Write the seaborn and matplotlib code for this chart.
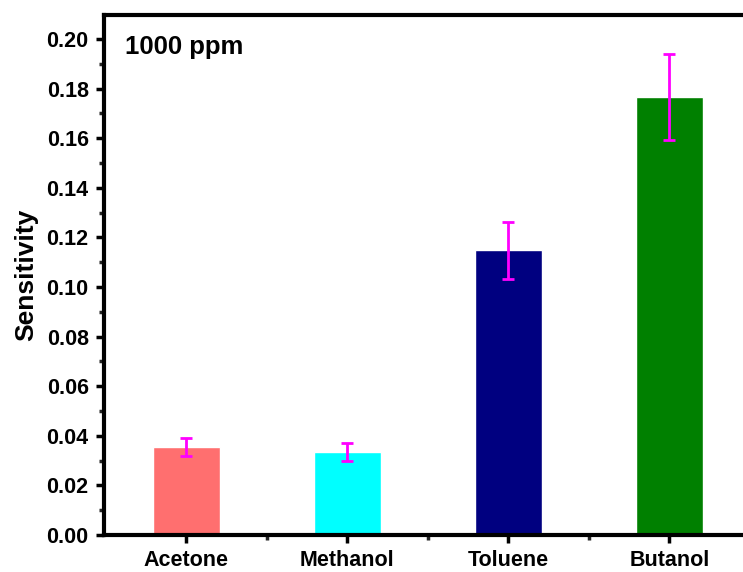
import pandas as pd
import numpy as np
import matplotlib.pyplot as plt
import seaborn as sns
from matplotlib.ticker import MultipleLocator, FixedLocator

# Data
gases = ["Acetone", "Methanol", "Toluene", "Butanol"]
sensitivity = [0.0355, 0.0335, 0.1149, 0.1766]
error = [0.0036, 0.0036, 0.0115, 0.0175]
bar_colors = ["#FF6F6F", "#00FFFF", "#000080", "#008000"]

df = pd.DataFrame({"Gas": gases, "Sensitivity": sensitivity})

sns.set_style("ticks")
plt.rcParams['font.family'] = ['Liberation Sans', 'DejaVu Sans']
plt.rcParams['font.weight'] = 'bold'
plt.rcParams['text.color'] = 'black'
plt.rcParams['axes.labelcolor'] = 'black'

fig = plt.figure(figsize=(7.43, 5.72), dpi=100)
ax = fig.add_axes([104 / 743, 37 / 572, (750 - 104) / 743, (535 - 15) / 572])

sns.barplot(data=df, x="Gas", y="Sensitivity", hue="Gas", palette=bar_colors,
            width=0.415, legend=False, ax=ax, saturation=1)
ax.errorbar(np.arange(len(gases)), sensitivity, yerr=error, fmt="none",
            ecolor="#FF00FF", elinewidth=2, capsize=4, capthick=2, zorder=5)

ax.set_xlim(-0.51, 3.5)
ax.set_ylim(0, 0.2097)
ax.yaxis.set_major_locator(MultipleLocator(0.02))
ax.yaxis.set_minor_locator(MultipleLocator(0.01))
ax.xaxis.set_minor_locator(FixedLocator([0.5, 1.5, 2.5]))
ax.yaxis.set_major_formatter(plt.FuncFormatter(lambda v, p: f"{v:.2f}"))

for side in ["left", "bottom", "top"]:
    ax.spines[side].set_linewidth(3)
    ax.spines[side].set_color("black")
ax.spines["right"].set_visible(False)

ax.tick_params(axis="both", which="major", direction="out", length=6, width=2.5,
               labelsize=15.5, colors="black")
ax.tick_params(axis="x", which="major", pad=5)
ax.tick_params(axis="y", which="major", pad=5)
ax.tick_params(axis="both", which="minor", direction="out", length=3.5, width=2.5)
for lbl in ax.get_xticklabels() + ax.get_yticklabels():
    lbl.set_fontweight("bold")

ax.set_xlabel("")
ax.set_ylabel("Sensitivity", fontsize=19, fontweight="bold", labelpad=6, color="black")
ax.text(0.032, 0.962, "1000 ppm", transform=ax.transAxes, fontsize=18.5,
        fontweight="bold", va="top", ha="left", color="black")

fig.savefig("out.png", dpi=100)
